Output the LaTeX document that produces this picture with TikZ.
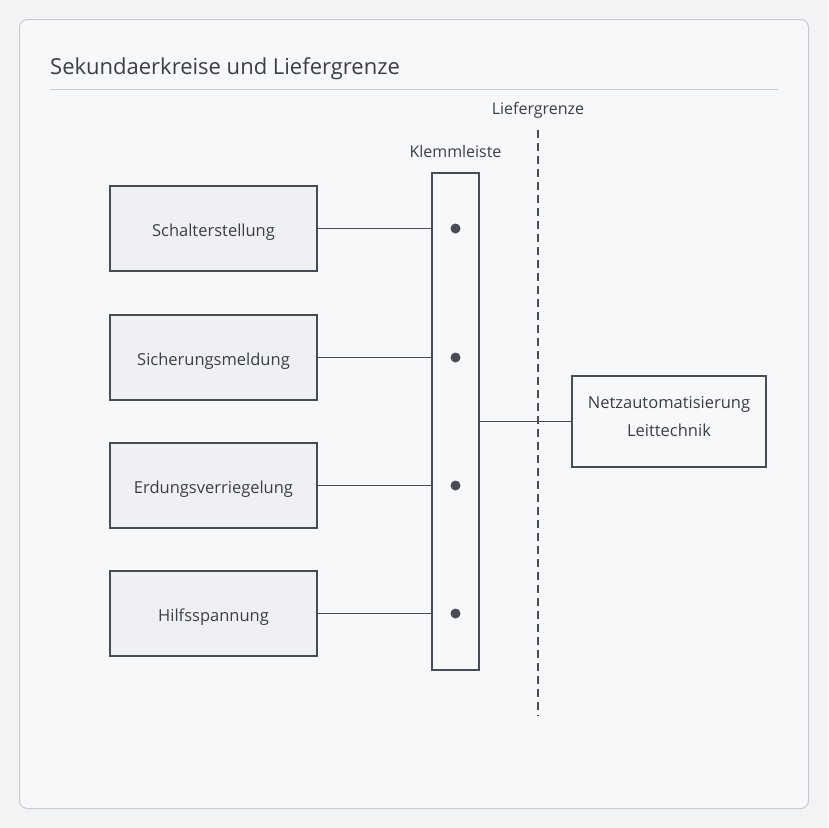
\documentclass[tikz,border=0pt]{standalone}
\usepackage{fontspec}
\setmainfont{Open Sans}
\usetikzlibrary{positioning}
\definecolor{pagebg}{HTML}{F2F3F5}
\definecolor{cardbg}{HTML}{F7F8FA}
\definecolor{cardline}{HTML}{C6CAD2}
\definecolor{inkline}{HTML}{484C55}
\definecolor{boxfill}{HTML}{EFF0F4}
\definecolor{textgrey}{HTML}{3A3E46}

\begin{document}
\begin{tikzpicture}[x=1pt, y=-1pt,
    signalbox/.style={rectangle, draw=inkline, fill=boxfill, line width=1.3pt, minimum width=207pt, minimum height=85pt, text=textgrey, text height=15pt, text depth=0pt, font=\fontsize{16.5}{20}\selectfont},
    leitbox/.style={rectangle, draw=inkline, fill=cardbg, line width=1.3pt, minimum width=194pt, minimum height=91pt, text=textgrey, align=center, text depth=10pt, font=\fontsize{16.5}{28}\selectfont},
    stripbox/.style={rectangle, draw=inkline, fill=cardbg, line width=1.3pt, minimum width=47pt, minimum height=497pt},
    terminal/.style={circle, fill=inkline, inner sep=0pt, minimum size=10pt},
    caption/.style={text=textgrey, font=\fontsize{16}{19}\selectfont, inner sep=0pt},
    wire/.style={draw=inkline, line width=1.1pt}]
        \fill[pagebg] (0,0) rectangle (828,828);
        \draw[cardline, line width=1pt, fill=cardbg, rounded corners=8pt] (19.5,19.5) rectangle (808.5,808.5);

        \node[anchor=base west, text=textgrey, font=\fontsize{22}{26}\selectfont, inner sep=0pt] (titel) at (50,74) {Sekundaerkreise und Liefergrenze};
        \draw[cardline, line width=1pt] (50,89.5) -- (778,89.5);

        \node[stripbox]    (leiste)     at (455.5,421.5) {};
        \node[caption]     (leistetxt)  [above=14pt of leiste] {Klemmleiste};

        \node[signalbox]   (schalter)   at (213.5,228.5) {Schalterstellung};
        \node[signalbox]   (sicherung)  at (213.5,357.5) {Sicherungsmeldung};
        \node[signalbox]   (erdung)     at (213.5,485.5) {Erdungsverriegelung};
        \node[signalbox]   (hilfs)      at (213.5,613.5) {Hilfsspannung};

        \node[terminal]    (klemme1)    at (455.5,228.5) {};
        \node[terminal]    (klemme2)    at (455.5,357.5) {};
        \node[terminal]    (klemme3)    at (455.5,485.5) {};
        \node[terminal]    (klemme4)    at (455.5,613.5) {};

        \node[leitbox]     (leit)       at (669,421.5) {Netzautomatisierung\\Leittechnik};

        \coordinate        (grenzeoben)  at (538,130);
        \coordinate        (grenzeunten) at (538,716);
        \node[caption]     (grenzetxt)  [above=11pt of grenzeoben] {Liefergrenze};

        \path[wire] (schalter.east) -- (klemme1 -| leiste.west);
        \path[wire] (sicherung.east) -- (klemme2 -| leiste.west);
        \path[wire] (erdung.east) -- (klemme3 -| leiste.west);
        \path[wire] (hilfs.east) -- (klemme4 -| leiste.west);

        \path[wire] (leiste.east) -- (leit.west);

        \draw[inkline, line width=1.6pt, dash pattern=on 8pt off 5pt] (grenzeoben) -- (grenzeunten);
    \end{tikzpicture}
\end{document}
